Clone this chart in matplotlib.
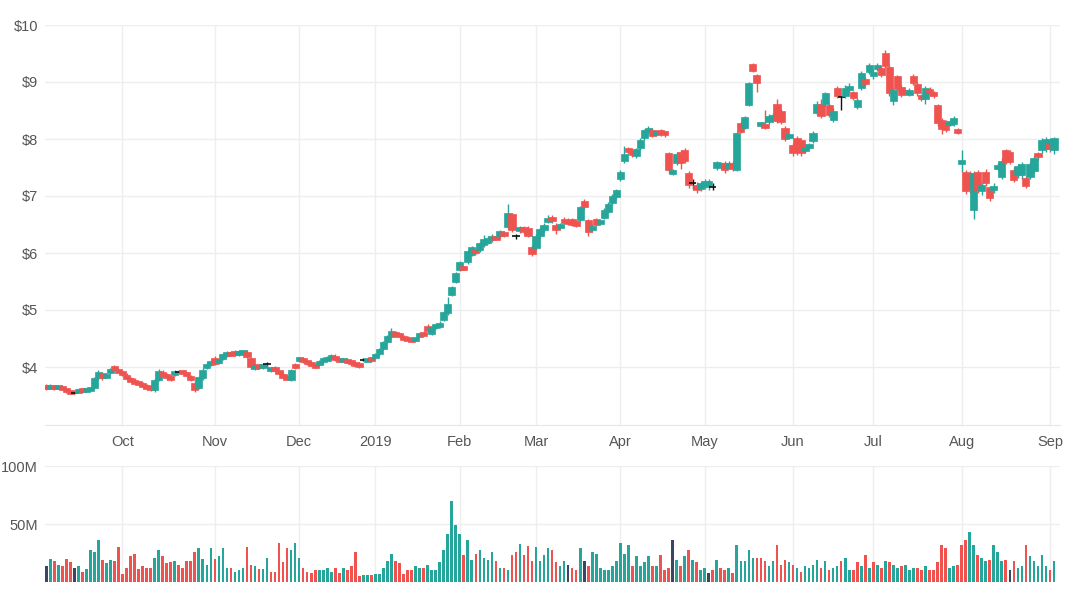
import matplotlib
matplotlib.use("Agg")
import matplotlib.pyplot as plt
import numpy as np
import pandas as pd

# daily OHLC (USD) and volume (millions), Sep 2018 - Sep 2019, grouped by month
opens = [
    # Sep 2018
    3.66, 3.63, 3.67, 3.64, 3.66, 3.62, 3.58, 3.55, 3.56, 3.61, 3.58, 3.60, 3.63, 3.80, 3.90, 3.82, 3.90, 4.00, 3.95,
    # Oct
    3.92, 3.86, 3.80, 3.77, 3.74, 3.72, 3.68, 3.66, 3.60, 3.78, 3.92, 3.88, 3.84, 3.86, 3.92, 3.93, 3.90, 3.84, 3.72,
    3.64, 3.80, 3.98, 4.04,
    # Nov
    4.16, 4.08, 4.14, 4.20, 4.26, 4.27, 4.22, 4.26, 4.27, 4.15, 3.97, 4.04, 3.98, 4.05, 3.94, 3.99, 3.93, 3.88, 3.84,
    3.78, 4.04,
    # Dec
    4.12, 4.15, 4.10, 4.08, 4.04, 4.04, 4.08, 4.12, 4.16, 4.20, 4.14, 4.10, 4.13, 4.11, 4.07, 4.06, 4.13, 4.10, 4.15,
    # Jan 2019
    4.16, 4.22, 4.32, 4.44, 4.53, 4.61, 4.58, 4.55, 4.52, 4.50, 4.47, 4.54, 4.60, 4.72, 4.58, 4.68, 4.70, 4.82, 4.94,
    5.26, 5.50,
    # Feb
    5.70, 5.76, 5.84, 5.96, 6.06, 6.05, 6.14, 6.18, 6.22, 6.27, 6.30, 6.36, 6.45, 6.68, 6.30, 6.38, 6.46, 6.44, 6.10,
    # Mar
    6.08, 6.30, 6.40, 6.55, 6.64, 6.50, 6.44, 6.60, 6.58, 6.60, 6.56, 6.58, 6.92, 6.58, 6.40, 6.60, 6.53, 6.62, 6.72,
    6.88, 6.98,
    # Apr
    7.30, 7.62, 7.84, 7.80, 7.70, 7.84, 8.02, 8.12, 8.16, 8.08, 8.13, 8.12, 7.75, 7.40, 7.58, 7.78, 7.80, 7.40, 7.22,
    7.20, 7.12,
    # May
    7.16, 7.18, 7.15, 7.50, 7.52, 7.58, 7.50, 7.58, 7.46, 8.28, 8.20, 8.60, 9.32, 9.12, 8.24, 8.25, 8.30, 8.36, 8.62,
    8.50, 8.20, 8.03,
    # Jun
    7.90, 8.02, 7.98, 7.80, 7.85, 7.96, 8.46, 8.62, 8.62, 8.60, 8.34, 8.90, 8.73, 8.76, 8.86, 8.82, 8.56, 8.90, 9.05,
    9.18,
    # Jul
    9.10, 9.24, 9.24, 9.50, 9.26, 8.66, 9.10, 8.92, 8.84, 8.78, 9.10, 8.96, 8.76, 8.70, 8.88, 8.82, 8.60, 8.34, 8.30,
    8.26, 8.26, 8.16,
    # Aug
    7.58, 7.42, 7.40, 6.76, 7.42, 7.08, 7.42, 7.15, 7.10, 7.48, 7.34, 7.80, 7.78, 7.46, 7.36, 7.36, 7.32, 7.34, 7.44,
    7.76, 7.80, 7.82,
    # Sep
    7.92, 7.80,
]
closes = [
    3.64, 3.67, 3.63, 3.66, 3.61, 3.58, 3.55, 3.55, 3.60, 3.58, 3.61, 3.62, 3.80, 3.92, 3.80, 3.88, 3.96, 3.95, 3.92,
    3.86, 3.80, 3.76, 3.72, 3.70, 3.66, 3.62, 3.60, 3.78, 3.93, 3.84, 3.80, 3.78, 3.93, 3.92, 3.89, 3.84, 3.78, 3.60,
    3.82, 3.95, 4.06, 4.10,
    4.06, 4.14, 4.22, 4.25, 4.21, 4.22, 4.27, 4.28, 4.18, 4.00, 4.03, 3.99, 4.04, 4.05, 3.98, 3.94, 3.90, 3.82, 3.79,
    3.95, 3.99,
    4.15, 4.09, 4.06, 4.03, 4.01, 4.10, 4.15, 4.17, 4.20, 4.13, 4.11, 4.13, 4.09, 4.05, 4.03, 4.02, 4.13, 4.14, 4.12,
    4.22, 4.32, 4.44, 4.55, 4.64, 4.55, 4.54, 4.48, 4.47, 4.46, 4.50, 4.59, 4.57, 4.64, 4.70, 4.76, 4.78, 4.96, 5.10,
    5.40, 5.65,
    5.84, 5.72, 6.04, 6.10, 6.00, 6.18, 6.24, 6.26, 6.30, 6.24, 6.38, 6.30, 6.70, 6.40, 6.30, 6.45, 6.36, 6.30, 5.98,
    6.30, 6.42, 6.50, 6.62, 6.56, 6.40, 6.50, 6.52, 6.52, 6.50, 6.48, 6.80, 6.80, 6.36, 6.48, 6.50, 6.56, 6.76, 6.86,
    7.00, 7.10,
    7.42, 7.74, 7.78, 7.72, 7.82, 7.98, 8.15, 8.18, 8.06, 8.12, 8.10, 8.08, 7.45, 7.45, 7.74, 7.58, 7.62, 7.20, 7.22,
    7.10, 7.22,
    7.26, 7.26, 7.15, 7.60, 7.56, 7.46, 7.58, 7.48, 8.10, 8.12, 8.38, 8.98, 9.20, 8.98, 8.27, 8.21, 8.40, 8.42, 8.32,
    8.30, 8.00, 8.06,
    7.76, 7.82, 7.76, 7.86, 7.90, 8.10, 8.62, 8.40, 8.80, 8.42, 8.50, 8.76, 8.73, 8.90, 8.92, 8.72, 8.68, 9.16, 8.96,
    9.30,
    9.18, 9.30, 9.12, 9.28, 8.80, 8.86, 8.88, 8.78, 8.80, 8.86, 8.98, 8.80, 8.70, 8.90, 8.80, 8.76, 8.28, 8.18, 8.16,
    8.30, 8.36, 8.12,
    7.62, 7.08, 7.12, 7.40, 7.10, 7.20, 7.22, 6.96, 7.18, 7.55, 7.62, 7.60, 7.60, 7.28, 7.52, 7.56, 7.18, 7.56, 7.66,
    7.68, 7.98, 8.00,
    7.82, 8.02,
]
highs = [
    3.70, 3.70, 3.69, 3.68, 3.68, 3.64, 3.60, 3.58, 3.62, 3.63, 3.63, 3.65, 3.83, 3.95, 3.92, 3.90, 3.99, 4.03, 3.98,
    3.95, 3.89, 3.83, 3.80, 3.76, 3.74, 3.70, 3.68, 3.80, 3.96, 3.95, 3.90, 3.86, 3.95, 3.95, 3.95, 3.92, 3.86, 3.75,
    3.84, 3.98, 4.08, 4.13,
    4.19, 4.16, 4.24, 4.28, 4.28, 4.30, 4.29, 4.30, 4.29, 4.18, 4.06, 4.06, 4.06, 4.08, 4.00, 4.01, 3.95, 3.91, 3.86,
    3.97, 4.07,
    4.18, 4.17, 4.12, 4.10, 4.06, 4.12, 4.17, 4.19, 4.23, 4.22, 4.16, 4.15, 4.15, 4.13, 4.09, 4.08, 4.15, 4.16, 4.17,
    4.24, 4.34, 4.46, 4.57, 4.68, 4.64, 4.60, 4.57, 4.54, 4.52, 4.52, 4.62, 4.63, 4.75, 4.72, 4.78, 4.80, 4.98, 5.22,
    5.42, 5.67,
    5.86, 5.78, 6.06, 6.12, 6.08, 6.20, 6.32, 6.30, 6.33, 6.29, 6.40, 6.38, 6.86, 6.70, 6.34, 6.48, 6.48, 6.47, 6.14,
    6.33, 6.45, 6.53, 6.66, 6.67, 6.52, 6.53, 6.63, 6.61, 6.62, 6.58, 6.83, 6.95, 6.60, 6.50, 6.62, 6.58, 6.79, 6.89,
    7.03, 7.13,
    7.46, 7.88, 7.86, 7.83, 7.85, 8.01, 8.18, 8.22, 8.19, 8.15, 8.17, 8.14, 7.78, 7.48, 7.77, 7.80, 7.84, 7.43, 7.30,
    7.24, 7.25,
    7.30, 7.29, 7.22, 7.62, 7.60, 7.61, 7.61, 7.61, 8.12, 8.30, 8.40, 9.00, 9.34, 9.14, 8.30, 8.50, 8.43, 8.46, 8.70,
    8.53, 8.23, 8.09,
    7.93, 8.05, 8.00, 7.89, 7.93, 8.14, 8.66, 8.70, 8.83, 8.64, 8.54, 8.93, 8.76, 8.94, 8.98, 8.85, 8.72, 9.20, 9.08,
    9.34,
    9.22, 9.33, 9.28, 9.56, 9.30, 8.90, 9.13, 8.95, 8.87, 8.89, 9.14, 9.00, 8.79, 8.93, 8.91, 8.84, 8.62, 8.37, 8.33,
    8.34, 8.40, 8.19,
    7.80, 7.46, 7.44, 7.44, 7.46, 7.24, 7.48, 7.18, 7.22, 7.58, 7.66, 7.82, 7.80, 7.50, 7.56, 7.60, 7.35, 7.60, 7.70,
    7.78, 8.02, 8.04,
    7.95, 8.04,
]
lows = [
    3.60, 3.61, 3.60, 3.61, 3.59, 3.55, 3.52, 3.52, 3.54, 3.56, 3.56, 3.58, 3.61, 3.78, 3.78, 3.80, 3.88, 3.93, 3.89,
    3.84, 3.78, 3.74, 3.70, 3.68, 3.64, 3.60, 3.58, 3.57, 3.76, 3.82, 3.78, 3.76, 3.84, 3.89, 3.87, 3.82, 3.76, 3.57,
    3.62, 3.78, 3.96, 4.02,
    4.03, 4.05, 4.12, 4.18, 4.19, 4.20, 4.20, 4.24, 4.16, 3.97, 3.95, 3.96, 3.96, 4.00, 3.92, 3.91, 3.88, 3.80, 3.77,
    3.76, 3.97,
    4.09, 4.07, 4.04, 4.01, 3.98, 4.02, 4.06, 4.10, 4.14, 4.11, 4.08, 4.08, 4.07, 4.02, 4.00, 3.99, 4.11, 4.08, 4.09,
    4.14, 4.20, 4.30, 4.42, 4.51, 4.52, 4.50, 4.46, 4.45, 4.44, 4.45, 4.52, 4.54, 4.62, 4.56, 4.66, 4.68, 4.80, 4.92,
    5.24, 5.48,
    5.68, 5.70, 5.80, 5.94, 5.98, 6.02, 6.10, 6.16, 6.20, 6.22, 6.27, 6.28, 6.42, 6.37, 6.25, 6.35, 6.34, 6.28, 5.95,
    6.05, 6.27, 6.37, 6.52, 6.53, 6.33, 6.42, 6.50, 6.49, 6.47, 6.45, 6.55, 6.77, 6.30, 6.36, 6.47, 6.50, 6.60, 6.70,
    6.85, 6.95,
    7.26, 7.58, 7.74, 7.68, 7.67, 7.80, 7.98, 8.08, 8.03, 8.05, 8.06, 8.04, 7.40, 7.36, 7.55, 7.48, 7.58, 7.14, 7.12,
    7.06, 7.08,
    7.12, 7.10, 7.10, 7.45, 7.48, 7.41, 7.47, 7.44, 7.44, 8.10, 8.17, 8.58, 9.17, 8.82, 8.21, 8.18, 8.27, 8.33, 8.28,
    8.27, 7.97, 8.02,
    7.70, 7.72, 7.70, 7.76, 7.82, 7.93, 8.42, 8.36, 8.58, 8.38, 8.30, 8.72, 8.50, 8.72, 8.82, 8.68, 8.52, 8.86, 8.93,
    9.14,
    9.06, 9.20, 9.08, 9.24, 8.76, 8.60, 8.84, 8.74, 8.77, 8.75, 8.95, 8.76, 8.66, 8.62, 8.76, 8.72, 8.22, 8.08, 8.12,
    8.22, 8.22, 8.09,
    7.42, 7.04, 7.05, 6.60, 7.06, 7.02, 7.18, 6.92, 7.06, 7.46, 7.30, 7.56, 7.56, 7.24, 7.32, 7.30, 7.14, 7.30, 7.40,
    7.64, 7.76, 7.78,
    7.78, 7.74,
]
volumes = [
    14, 20, 18, 15, 14, 20, 17, 12, 14, 9, 11, 28, 26, 36, 19, 16, 19, 18, 30,
    7, 12, 22, 24, 11, 14, 12, 12, 21, 28, 22, 16, 17, 18, 15, 12, 18, 18, 26, 29, 20, 15, 29,
    20, 22, 29, 12, 12, 9, 10, 12, 30, 15, 14, 11, 11, 21, 9, 9, 34, 17, 29, 28, 34,
    21, 12, 9, 8, 10, 10, 10, 12, 9, 12, 8, 12, 10, 14, 26, 5, 6, 6, 6,
    7, 7, 12, 18, 24, 18, 16, 7, 10, 10, 14, 12, 12, 15, 10, 10, 17, 28, 41, 70, 49,
    41, 23, 36, 19, 24, 28, 21, 19, 26, 18, 12, 12, 10, 23, 26, 33, 23, 31, 18,
    30, 18, 23, 29, 28, 17, 14, 18, 15, 12, 10, 29, 18, 14, 26, 24, 12, 10, 10, 14, 18,
    34, 24, 32, 14, 22, 14, 17, 22, 14, 14, 23, 10, 12, 36, 19, 14, 22, 28, 19, 17, 10,
    12, 8, 10, 19, 12, 10, 12, 8, 32, 18, 18, 28, 21, 21, 21, 18, 14, 18, 32, 15, 19, 17,
    15, 12, 9, 14, 12, 15, 19, 12, 18, 10, 12, 14, 18, 21, 10, 10, 17, 14, 23, 12,
    17, 15, 12, 18, 17, 15, 12, 14, 15, 10, 12, 12, 10, 14, 10, 10, 17, 32, 29, 12, 14, 15,
    32, 36, 43, 32, 23, 21, 18, 19, 32, 26, 18, 19, 10, 18, 12, 14, 32, 22, 18, 14, 23, 14,
    10, 18,
]

holidays = ["2018-11-22", "2018-12-05", "2018-12-25", "2019-01-01", "2019-01-21",
            "2019-02-18", "2019-04-19", "2019-05-27", "2019-07-04", "2019-09-02"]
month_labels = ["Oct", "Nov", "Dec", "2019", "Feb", "Mar", "Apr", "May", "Jun", "Jul", "Aug", "Sep"]

UP = "#26a69a"
DOWN = "#ef5350"
FLAT = "#3b4566"
DOJI = "#111111"
GRID = "#eeeeee"
TXT = "#555555"

days = pd.bdate_range("2018-09-04", "2019-09-04")
days = days[~days.isin(pd.to_datetime(holidays))]
n = len(closes)
days = days[:n]
x = np.arange(n)

o = np.array(opens)
c = np.array(closes)
h = np.array(highs)
l = np.array(lows)
v = np.array(volumes)

# first trading day of each month from Oct 2018 on
month_key = days.year * 12 + days.month
starts = [i for i in range(1, n) if month_key[i] != month_key[i - 1]]

plt.rcParams["font.family"] = ["Liberation Sans", "DejaVu Sans"]
fig = plt.figure(figsize=(10.8, 6.01), dpi=100)
ax = fig.add_axes([45 / 1080, 1 - 425 / 601, 1015 / 1080, 400 / 601])
axv = fig.add_axes([45 / 1080, 1 - 582 / 601, 1015 / 1080, 116 / 601])

# candles (tiny bodies get a minimum visible height, like the web chart)
body_w = 1.8
min_body = 0.07
for i in range(n):
    if c[i] > o[i]:
        col = UP
    elif c[i] < o[i]:
        col = DOWN
    else:
        col = DOJI
    ax.vlines(x[i], l[i], h[i], color=col, lw=1, zorder=2)
    if col == DOJI:
        ax.hlines(c[i], x[i] - body_w / 2, x[i] + body_w / 2, color=col, lw=1.2, zorder=3)
        continue
    lo, hi = min(o[i], c[i]), max(o[i], c[i])
    if hi - lo < min_body:
        mid = (hi + lo) / 2
        lo, hi = mid - min_body / 2, mid + min_body / 2
    ax.bar(x[i], hi - lo, bottom=lo, width=body_w,
           color=col, edgecolor=col, linewidth=0.5, zorder=3)

# volume colored by change vs previous close
vcols = [FLAT]
for i in range(1, n):
    if c[i] > c[i - 1]:
        vcols.append(UP)
    elif c[i] < c[i - 1]:
        vcols.append(DOWN)
    else:
        vcols.append(FLAT)
axv.bar(x, v, width=0.65, color=vcols, zorder=2)

for a in (ax, axv):
    a.set_xlim(-0.3, 252.5)
    a.set_xticks(starts)
    a.grid(True, color=GRID, lw=1, zorder=0)
    a.set_axisbelow(True)
    for s in a.spines.values():
        s.set_visible(False)
    a.tick_params(length=0, colors=TXT, labelsize=10.5)

ax.set_ylim(10 - 400 / 57, 10)
ax.set_yticks(range(4, 11))
ax.set_yticklabels([f"${t}" for t in range(4, 11)])
ax.set_xticklabels(month_labels[:len(starts)])
ax.tick_params(axis="x", pad=7)
ax.tick_params(axis="y", pad=5)
ax.spines["bottom"].set_visible(True)
ax.spines["bottom"].set_color("#e6e6e6")

axv.set_ylim(0, 100)
axv.set_yticks([50, 100])
axv.set_yticklabels(["50M", "100M"])
axv.set_xticklabels([])
axv.tick_params(axis="y", pad=5)

fig.savefig("out.png", dpi=100, facecolor="white")
